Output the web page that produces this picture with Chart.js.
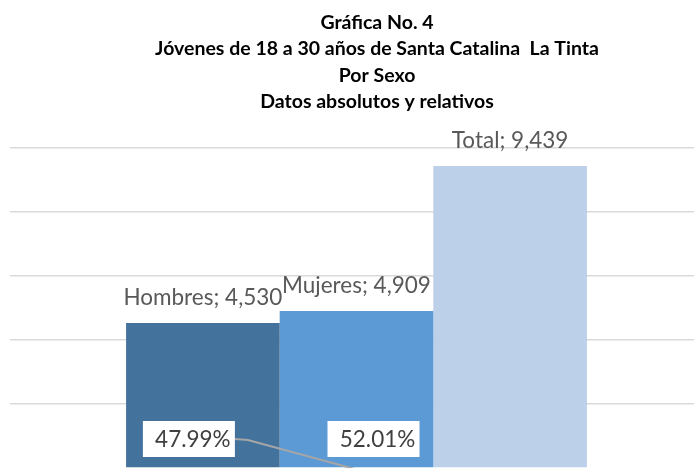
<!DOCTYPE html>
<html>
<head>
<meta charset="utf-8">
<script src="https://cdn.jsdelivr.net/npm/chart.js@4.4.1/dist/chart.umd.min.js"></script>
<style>
  html, body { margin: 0; padding: 0; background: #fff; overflow: hidden; }
  #wrap { width: 703px; height: 468px; }
</style>
</head>
<body>
<div id="wrap"><canvas id="barChart" width="703" height="468"></canvas></div>
<script>
const categories = ['Hombres', 'Mujeres', 'Total'];
const values = [4530, 4909, 9439];
const colors = ['#43729D', '#5B9AD5', '#BCD0E9'];
const yTicks = [0, 2000, 4000, 6000, 8000, 10000];
const titleLines = [
  'Gráfica No. 4',
  'Jóvenes de 18 a 30 años de Santa Catalina  La Tinta',
  'Por Sexo',
  'Datos absolutos y relativos'
];

const fmt = n => n.toLocaleString('en-US');

// titulo: va un poco a la derecha del centro, como en la original
const titlePlugin = {
  id: 'titulo',
  afterDraw(chart) {
    const c = chart.ctx;
    c.save();
    c.font = 'bold 19.5px Lato';
    c.fillStyle = '#000';
    c.textAlign = 'center';
    c.textBaseline = 'middle';
    titleLines.forEach((t, i) => c.fillText(t, 377, 23 + i * 26.2));
    c.restore();
  }
};

// etiquetas "Nombre; valor" encima de cada barra y los porcentajes
const labelsPlugin = {
  id: 'labels',
  afterDatasetsDraw(chart) {
    const c = chart.ctx;
    const area = chart.chartArea;
    c.save();
    c.font = '22.5px Lato';
    c.fillStyle = '#595959';
    c.textAlign = 'center';
    c.textBaseline = 'middle';
    chart.data.datasets.forEach((ds, i) => {
      const bar = chart.getDatasetMeta(i).data[0];
      c.fillText(categories[i] + '; ' + fmt(values[i]), bar.x, bar.y - 25);
    });

    // porcentajes de hombres y mujeres sobre el total
    const total = values[2];
    const b0 = chart.getDatasetMeta(0).data[0];
    const b1 = chart.getDatasetMeta(1).data[0];
    const cy = area.bottom - 29;
    const boxes = [
      { x: b0.x - 14, text: (values[0] / total * 100).toFixed(2) + '%' },
      { x: b1.x + 17, text: (values[1] / total * 100).toFixed(2) + '%' }
    ];
    const bw = 92, bh = 36;
    // linea guia
    c.strokeStyle = '#A6A6A6';
    c.lineWidth = 2;
    c.beginPath();
    c.moveTo(boxes[0].x + bw / 2, cy);
    c.lineTo(boxes[0].x + bw / 2 + 13, cy + 1);
    c.lineTo(b1.x + 2, area.bottom + 2);
    c.stroke();
    boxes.forEach(b => {
      c.fillStyle = '#FFFFFF';
      c.fillRect(b.x - bw / 2, cy - bh / 2, bw, bh);
      c.fillStyle = '#404040';
      c.fillText(b.text, b.x + 4, cy + 1);
    });
    c.restore();
  }
};

const ctx = document.getElementById('barChart').getContext('2d');

const barChart = new Chart(ctx, {
  type: 'bar',
  data: {
    labels: [''],
    datasets: categories.map((name, i) => ({
      label: name,
      data: [values[i]],
      backgroundColor: colors[i],
      borderWidth: 0
    }))
  },
  options: {
    responsive: false,
    animation: false,
    layout: { padding: { left: 10, right: 0, top: 148, bottom: 0 } },
    datasets: {
      bar: { categoryPercentage: 0.665, barPercentage: 1 }
    },
    plugins: {
      legend: { display: false },
      tooltip: { enabled: false },
      title: { display: false }
    },
    scales: {
      x: { display: false },
      y: {
        min: 0,
        max: 10000,
        afterBuildTicks: axis => { axis.ticks = yTicks.map(v => ({ value: v })); },
        ticks: { display: false },
        border: { display: false },
        grid: {
          color: c => (c.tick && c.tick.value === 0 ? 'rgba(0,0,0,0)' : '#D9D9D9'),
          lineWidth: 1.5,
          drawTicks: false
        }
      }
    }
  },
  plugins: [labelsPlugin, titlePlugin]
});
</script>
</body>
</html>
